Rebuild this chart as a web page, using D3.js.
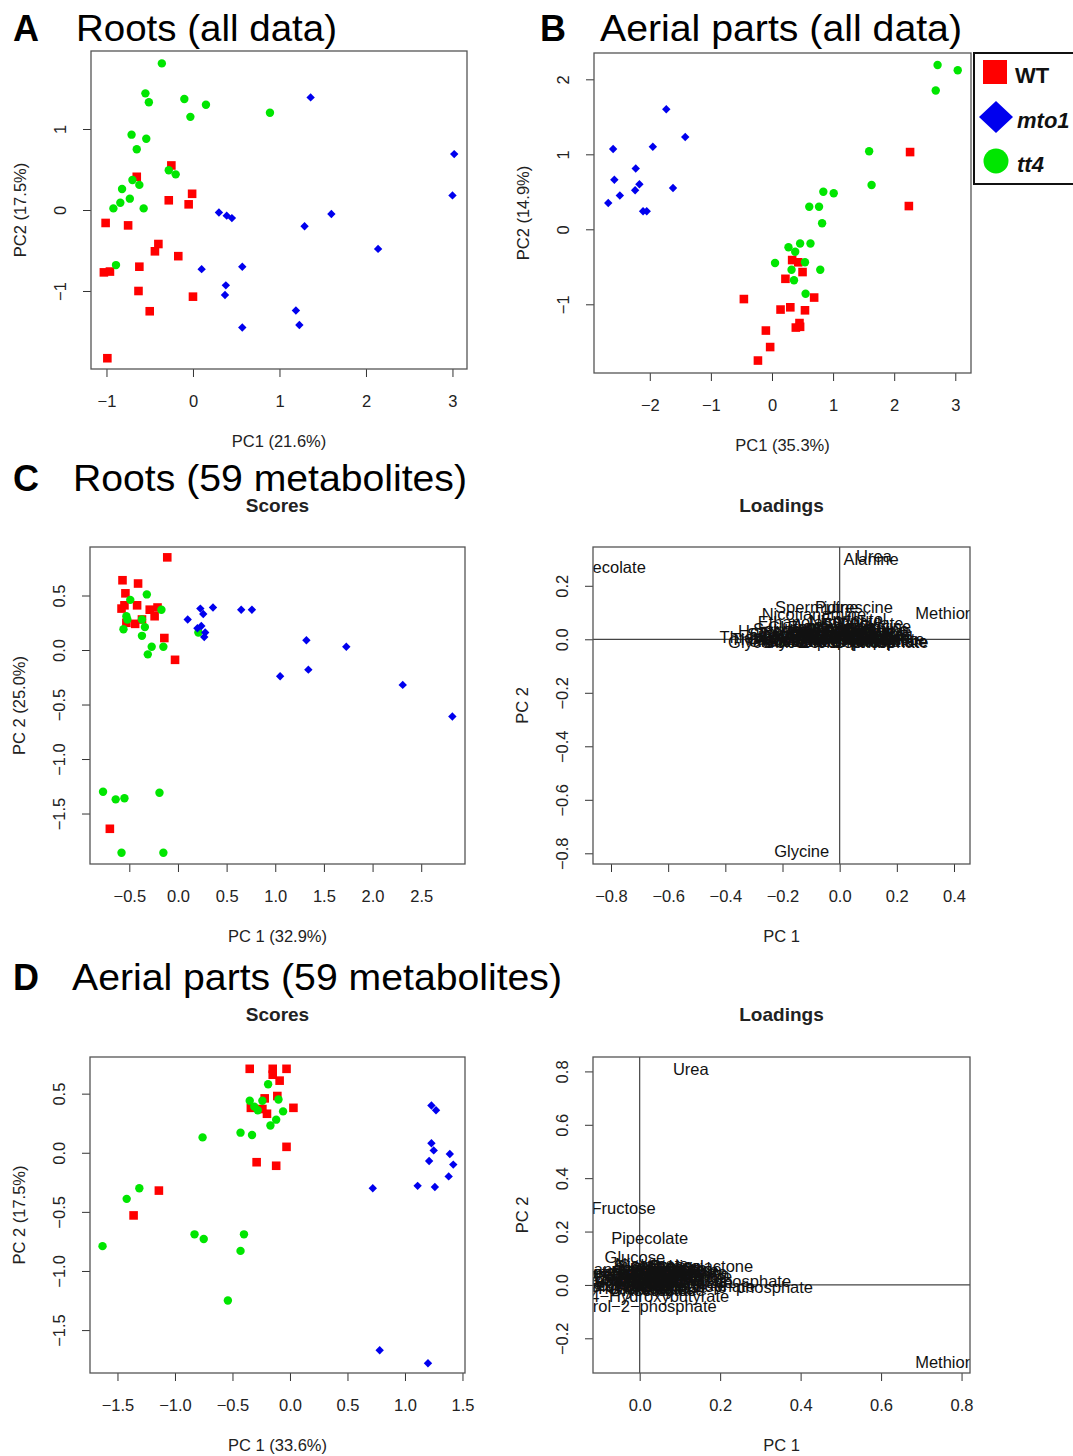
<!DOCTYPE html>
<html><head><meta charset="utf-8">
<script src="https://cdn.jsdelivr.net/npm/d3@7"></script>
<style>
body{margin:0;background:#fff}
svg{display:block}
text{font-family:Arial,"Liberation Sans",Helvetica,sans-serif}
</style>
</head><body>
<svg id="c" width="1073" height="1456"></svg>
<script>
// ---------------- DATA ----------------
const groups = ["WT", "mto1", "tt4"];
const groupColors = ["#ff0000", "#0000ee", "#00e600"];

// Panel A: Roots (all data) scores [PC1, PC2]
const rootsAllWT = [[-0.25,0.55],[-0.65,0.41],[-0.01,0.20],[-0.28,0.12],[-0.05,0.07],[-1.01,-0.16],[-0.75,-0.19],
  [-0.40,-0.42],[-0.44,-0.51],[-0.17,-0.57],[-0.62,-0.70],[-1.03,-0.77],[-0.96,-0.76],[-0.63,-1.00],[0.00,-1.07],
  [-0.50,-1.25],[-0.99,-1.83]];
const rootsAllMto1 = [[1.36,1.39],[3.02,0.69],[3.00,0.18],[0.30,-0.03],[0.39,-0.07],[0.45,-0.10],[1.60,-0.05],
  [1.29,-0.20],[2.14,-0.48],[0.10,-0.73],[0.57,-0.70],[0.38,-0.93],[0.37,-1.05],[1.19,-1.24],[1.23,-1.42],[0.57,-1.45]];
const rootsAllTt4 = [[-0.36,1.81],[-0.55,1.44],[-0.51,1.33],[-0.10,1.37],[0.15,1.30],[-0.03,1.15],[0.89,1.20],
  [-0.71,0.93],[-0.54,0.88],[-0.65,0.75],[-0.28,0.49],[-0.20,0.44],[-0.70,0.37],[-0.62,0.31],[-0.82,0.26],
  [-0.73,0.14],[-0.84,0.09],[-0.92,0.02],[-0.57,0.02],[-0.89,-0.68]];

// Panel B: Aerial parts (all data) scores
const aerialAllWT = [[2.26,1.03],[2.24,0.31],[0.33,-0.41],[0.43,-0.44],[0.50,-0.57],[0.22,-0.66],[0.69,-0.91],
  [-0.46,-0.93],[0.30,-1.04],[0.14,-1.07],[0.54,-1.08],[0.45,-1.25],[0.39,-1.31],[0.46,-1.30],[-0.10,-1.35],
  [-0.03,-1.57],[-0.23,-1.75]];
const aerialAllMto1 = [[-1.73,1.60],[-1.42,1.23],[-2.60,1.07],[-1.95,1.10],[-2.23,0.81],[-2.58,0.66],[-2.17,0.60],
  [-2.24,0.52],[-1.62,0.55],[-2.49,0.45],[-2.68,0.35],[-2.11,0.24],[-2.05,0.24]];
const aerialAllTt4 = [[2.71,2.19],[3.04,2.12],[2.68,1.85],[1.59,1.04],[1.63,0.59],[0.84,0.50],[1.01,0.48],
  [0.61,0.30],[0.77,0.30],[0.82,0.08],[0.27,-0.24],[0.46,-0.19],[0.63,-0.19],[0.38,-0.30],[0.05,-0.45],
  [0.54,-0.44],[0.32,-0.54],[0.79,-0.54],[0.36,-0.68],[0.55,-0.86]];

// Panel C: Roots (59 metabolites) scores
const roots59WT = [[-0.11,0.85],[-0.57,0.64],[-0.41,0.61],[-0.54,0.52],[-0.55,0.41],[-0.42,0.41],[-0.58,0.38],
  [-0.29,0.37],[-0.21,0.39],[-0.24,0.31],[-0.53,0.25],[-0.44,0.24],[-0.37,0.28],[-0.14,0.11],[-0.03,-0.09],[-0.70,-1.64]];
const roots59Mto1 = [[0.23,0.38],[0.36,0.39],[0.65,0.37],[0.76,0.37],[0.10,0.28],[0.26,0.33],[0.20,0.20],
  [0.24,0.22],[0.28,0.16],[0.27,0.12],[1.32,0.09],[1.73,0.03],[1.05,-0.24],[1.34,-0.18],[2.31,-0.32],[2.82,-0.61]];
const roots59Tt4 = [[-0.32,0.51],[-0.49,0.46],[-0.17,0.37],[-0.53,0.31],[-0.52,0.28],[-0.37,0.28],[-0.34,0.21],
  [-0.56,0.19],[-0.37,0.13],[-0.27,0.03],[-0.15,0.03],[-0.31,-0.04],[0.21,0.16],[-0.77,-1.30],[-0.64,-1.37],
  [-0.55,-1.36],[-0.19,-1.31],[-0.58,-1.86],[-0.15,-1.86]];

// Panel D: Aerial parts (59 metabolites) scores
const aerial59WT = [[-0.35,0.71],[-0.15,0.71],[-0.03,0.71],[-0.15,0.66],[-0.09,0.61],[-0.22,0.46],[-0.11,0.48],
  [-0.34,0.38],[-0.24,0.37],[-0.20,0.33],[0.03,0.38],[-0.03,0.05],[-0.29,-0.08],[-0.12,-0.11],[-1.14,-0.32],[-1.36,-0.53]];
const aerial59Mto1 = [[1.23,0.40],[1.27,0.36],[1.23,0.08],[1.25,0.02],[1.39,-0.01],[1.21,-0.07],[1.42,-0.10],
  [1.38,-0.20],[0.72,-0.30],[1.11,-0.28],[1.26,-0.29],[0.78,-1.67],[1.20,-1.78]];
const aerial59Tt4 = [[-0.19,0.58],[-0.35,0.44],[-0.24,0.44],[-0.10,0.45],[-0.31,0.39],[-0.28,0.36],[-0.06,0.35],
  [-0.12,0.28],[-0.17,0.23],[-0.43,0.17],[-0.33,0.15],[-0.76,0.13],[-1.31,-0.30],[-1.42,-0.39],[-0.83,-0.69],
  [-0.75,-0.73],[-0.40,-0.69],[-0.43,-0.83],[-1.63,-0.79],[-0.54,-1.25]];

// Metabolites and loadings
const metabolites = ["Alanine","Urea","Glycine","Methionine","Pipecolate","Spermidine","Nicotianamine","Putrescine","Threonine","Serine",
  "Proline","Valine","Leucine","Isoleucine","Glutamate","Glutamine","Aspartate","Asparagine","Phenylalanine","Tyrosine",
  "Tryptophan","Lysine","Arginine","Ornithine","GABA","beta\u2212Alanine","Homoserine","Pyroglutamate","Citrate","Malate",
  "Fumarate","Succinate","2\u2212Oxoglutarate","Glycerate","Glycolate","Shikimate","Ascorbate","Threonate","Gulonolactone","Sucrose",
  "Glucose","Fructose","Galactose","Raffinose","Trehalose","myo\u2212Inositol","Glycerol","Glycerol\u22122\u2212phosphate","Glycerol\u22123\u2212phosphate","Glucose\u22126\u2212phosphate",
  "Fructose\u22126\u2212phosphate","Ethanolamine","Phosphate","Sinapate","Nicotinate","Salicylate","4\u2212Hydroxybutyrate","Erythritol","Xylose"];
const rootsLoadPC1 = [0.11,0.12,-0.133,0.406,-0.813,-0.08,-0.09,0.05,-0.29,-0.22,
  0.16,0.10,0.05,0.00,-0.05,-0.12,0.12,-0.02,0.06,-0.18,
  0.10,-0.15,0.02,-0.06,0.15,-0.10,-0.20,0.03,-0.08,0.16,
  0.03,0.17,-0.12,0.10,-0.03,0.07,-0.17,-0.25,0.07,-0.01,
  0.04,-0.07,-0.13,0.13,-0.04,0.01,0.15,-0.10,0.02,-0.03,
  0.01,-0.11,0.17,-0.21,0.02,0.10,-0.04,0.05,-0.16];
const rootsLoadPC2 = [0.30,0.31,-0.79,0.10,0.27,0.12,0.095,0.12,0.01,0.04,
  0.05,0.03,0.02,0.015,0.03,0.045,0.01,0.05,0.04,0.02,
  0.005,0.035,0.04,0.01,0.02,0.02,0.03,0.00,-0.005,0.015,
  0.01,0.00,0.005,0.02,0.025,0.03,0.00,0.00,0.01,0.035,
  0.045,0.045,-0.005,0.03,0.015,0.03,0.01,-0.01,-0.01,-0.005,
  -0.005,0.065,-0.005,0.02,0.07,0.06,0.00,0.075,0.025];
const aerialLoadPC1 = [0.06,0.127,0.02,0.785,0.025,0.10,0.06,0.08,-0.06,-0.04,
  0.09,0.03,0.05,0.04,0.00,0.02,0.07,0.11,-0.03,0.01,
  0.12,-0.07,-0.05,0.08,0.13,-0.02,0.04,0.10,0.06,0.09,
  0.03,0.14,-0.06,0.00,0.02,0.07,0.05,-0.08,0.15,0.01,
  -0.012,-0.04,0.04,0.11,-0.02,0.06,0.00,-0.015,0.17,0.08,
  0.22,-0.05,0.12,-0.07,0.03,0.13,0.05,-0.03,0.10];
const aerialLoadPC2 = [0.03,0.81,0.01,-0.29,0.176,0.06,0.05,0.04,0.04,0.03,
  0.07,0.02,0.01,0.03,0.02,0.04,0.02,0.03,0.00,0.00,
  0.04,0.02,0.01,0.01,0.02,0.05,0.05,0.01,-0.01,0.05,
  -0.01,0.035,0.00,0.04,0.06,0.06,-0.02,0.02,0.07,0.07,
  0.105,0.29,0.075,0.055,-0.01,0.065,-0.02,-0.08,0.015,-0.005,
  -0.007,0.06,0.00,0.05,0.08,0.05,-0.04,0.03,-0.02];

// Tick values
const ticksA_x = [-1,0,1,2,3], ticksA_y = [-1,0,1];
const ticksB_x = [-2,-1,0,1,2,3], ticksB_y = [-1,0,1,2];
const ticksCs_x = [-0.5,0,0.5,1,1.5,2,2.5], ticksCs_y = [-1.5,-1,-0.5,0,0.5];
const ticksCl_x = [-0.8,-0.6,-0.4,-0.2,0,0.2,0.4], ticksCl_y = [-0.8,-0.6,-0.4,-0.2,0,0.2];
const ticksDs_x = [-1.5,-1,-0.5,0,0.5,1,1.5], ticksDs_y = [-1.5,-1,-0.5,0,0.5];
const ticksDl_x = [0,0.2,0.4,0.6,0.8], ticksDl_y = [-0.2,0,0.2,0.4,0.6,0.8];

// ---------------- DRAWING ----------------
const svg = d3.select("#c");
const defs = svg.append("defs");
const FS = 16.5;
let clipId = 0;

function panel(p) {
  const x = d3.scaleLinear().domain(p.xDom).range([p.L, p.R]);
  const y = d3.scaleLinear().domain(p.yDom).range([p.B, p.T]);
  const g = svg.append("g");
  const id = "clip" + (clipId++);
  defs.append("clipPath").attr("id", id).append("rect")
    .attr("x", p.L).attr("y", p.T).attr("width", p.R - p.L).attr("height", p.B - p.T);

  const xa = g.append("g").attr("transform", `translate(0,${p.B})`)
    .call(d3.axisBottom(x).tickValues(p.xTicks).tickFormat(p.fmt).tickSize(8));
  xa.select(".domain").remove();
  xa.selectAll("line").attr("stroke", "#333");
  xa.selectAll("text").attr("y", 32).attr("dy", null).attr("dominant-baseline", "central")
    .attr("fill", "#222").style("font-size", FS + "px").style("font-family", "Arial, 'Liberation Sans', sans-serif");

  const ya = g.append("g").attr("transform", `translate(${p.L},0)`)
    .call(d3.axisLeft(y).tickValues(p.yTicks).tickFormat(p.fmt).tickSize(8));
  ya.select(".domain").remove();
  ya.selectAll("line").attr("stroke", "#333");
  ya.selectAll("text").attr("x", null).attr("dy", null)
    .attr("transform", "translate(-31,0) rotate(-90)")
    .attr("text-anchor", "middle").attr("dominant-baseline", "central")
    .attr("fill", "#222").style("font-size", FS + "px").style("font-family", "Arial, 'Liberation Sans', sans-serif");

  g.append("text").attr("x", (p.L + p.R) / 2).attr("y", p.B + 72)
    .attr("text-anchor", "middle").attr("dominant-baseline", "central")
    .style("font-size", FS + "px").attr("fill", "#222").text(p.xTitle);
  g.append("text").attr("transform", `translate(${p.L - 71},${(p.T + p.B) / 2}) rotate(-90)`)
    .attr("text-anchor", "middle").attr("dominant-baseline", "central")
    .style("font-size", FS + "px").attr("fill", "#222").text(p.yTitle);

  const inner = g.append("g").attr("clip-path", `url(#${id})`);

  if (p.series) {
    p.series.forEach(s => {
      const col = groupColors[groups.indexOf(s.group)];
      const sel = inner.append("g").selectAll("path").data(s.pts).join("path")
        .attr("fill", col)
        .attr("transform", d => `translate(${x(d[0])},${y(d[1])})`);
      if (s.group === "WT") sel.attr("d", "M-4.3,-4.3H4.3V4.3H-4.3Z");
      else if (s.group === "mto1") sel.attr("d", "M0,-4.2L4.2,0L0,4.2L-4.2,0Z");
      else sel.attr("d", d3.symbol(d3.symbolCircle, Math.PI * 4.2 * 4.2)());
    });
  }
  if (p.labels) {
    inner.append("line").attr("x1", x(0)).attr("x2", x(0)).attr("y1", p.T).attr("y2", p.B)
      .attr("stroke", "#444").attr("stroke-width", 1.2);
    inner.append("line").attr("x1", p.L).attr("x2", p.R).attr("y1", y(0)).attr("y2", y(0))
      .attr("stroke", "#444").attr("stroke-width", 1.2);
    inner.append("g").selectAll("text").data(p.labels).join("text")
      .attr("x", d => x(d.pc1)).attr("y", d => y(d.pc2))
      .attr("text-anchor", "middle").attr("dominant-baseline", "central")
      .style("font-size", FS + "px").attr("fill", "#111").text(d => d.name);
  }
  g.append("rect").attr("x", p.L).attr("y", p.T).attr("width", p.R - p.L).attr("height", p.B - p.T)
    .attr("fill", "none").attr("stroke", "#555").attr("stroke-width", 1.3);
}

const fInt = d3.format("d"), f1 = d3.format(".1f");
const ser = (wt, m, t) => [{group: "WT", pts: wt}, {group: "tt4", pts: t}, {group: "mto1", pts: m}];
const lab = (a, b) => metabolites.map((n, i) => ({name: n, pc1: a[i], pc2: b[i]}));

panel({L: 91, R: 467, T: 51, B: 369, xDom: [-1.179, 3.168], yDom: [-1.963, 1.963],
  xTicks: ticksA_x, yTicks: ticksA_y, fmt: fInt, xTitle: "PC1 (21.6%)", yTitle: "PC2 (17.5%)",
  series: ser(rootsAllWT, rootsAllMto1, rootsAllTt4)});
panel({L: 594, R: 971, T: 53, B: 373, xDom: [-2.913, 3.257], yDom: [-1.916, 2.351],
  xTicks: ticksB_x, yTicks: ticksB_y, fmt: fInt, xTitle: "PC1 (35.3%)", yTitle: "PC2 (14.9%)",
  series: ser(aerialAllWT, aerialAllMto1, aerialAllTt4)});
panel({L: 90, R: 465, T: 547, B: 864, xDom: [-0.904, 2.950], yDom: [-1.963, 0.945],
  xTicks: ticksCs_x, yTicks: ticksCs_y, fmt: f1, xTitle: "PC 1 (32.9%)", yTitle: "PC 2 (25.0%)",
  series: ser(roots59WT, roots59Mto1, roots59Tt4)});
panel({L: 593, R: 970, T: 547, B: 864, xDom: [-0.863, 0.456], yDom: [-0.840, 0.345],
  xTicks: ticksCl_x, yTicks: ticksCl_y, fmt: f1, xTitle: "PC 1", yTitle: "PC 2",
  labels: lab(rootsLoadPC1, rootsLoadPC2)});
panel({L: 90, R: 465, T: 1057, B: 1373, xDom: [-1.739, 1.522], yDom: [-1.863, 0.810],
  xTicks: ticksDs_x, yTicks: ticksDs_y, fmt: f1, xTitle: "PC 1 (33.6%)", yTitle: "PC 2 (17.5%)",
  series: ser(aerial59WT, aerial59Mto1, aerial59Tt4)});
panel({L: 593, R: 970, T: 1057, B: 1373, xDom: [-0.116, 0.821], yDom: [-0.330, 0.854],
  xTicks: ticksDl_x, yTicks: ticksDl_y, fmt: f1, xTitle: "PC 1", yTitle: "PC 2",
  labels: lab(aerialLoadPC1, aerialLoadPC2)});

// Panel headings
const heads = [
  {letter: "A", lx: 13, tx: 76, y: 41, w: 261, text: "Roots (all data)"},
  {letter: "B", lx: 540, tx: 600, y: 41, w: 362, text: "Aerial parts (all data)"},
  {letter: "C", lx: 13, tx: 73, y: 491, w: 394, text: "Roots (59 metabolites)"},
  {letter: "D", lx: 13, tx: 72, y: 990, w: 490, text: "Aerial parts (59 metabolites)"}
];
heads.forEach(h => {
  svg.append("text").attr("x", h.lx).attr("y", h.y).style("font-size", "36px").style("font-weight", "bold").text(h.letter);
  svg.append("text").attr("x", h.tx).attr("y", h.y).style("font-size", "37px")
    .attr("textLength", h.w).attr("lengthAdjust", "spacingAndGlyphs").text(h.text);
});
[{x: 277.5, y: 512, t: "Scores"}, {x: 781.5, y: 512, t: "Loadings"},
 {x: 277.5, y: 1021, t: "Scores"}, {x: 781.5, y: 1021, t: "Loadings"}].forEach(s => {
  svg.append("text").attr("x", s.x).attr("y", s.y).attr("text-anchor", "middle")
    .style("font-size", "19px").style("font-weight", "bold").attr("fill", "#222").text(s.t);
});

// Legend
const lg = svg.append("g");
lg.append("rect").attr("x", 974).attr("y", 53).attr("width", 110).attr("height", 131)
  .attr("fill", "#fff").attr("stroke", "#111").attr("stroke-width", 2);
const legY = [72, 117, 161];
groups.forEach((gname, i) => {
  const cy = legY[i], col = groupColors[i];
  if (gname === "WT") lg.append("rect").attr("x", 983).attr("y", cy - 12).attr("width", 24).attr("height", 24).attr("fill", col);
  else if (gname === "mto1") lg.append("path").attr("d", `M996,${cy - 16}L1013,${cy}L996,${cy + 16}L979,${cy}Z`).attr("fill", col);
  else lg.append("circle").attr("cx", 996).attr("cy", cy).attr("r", 12.5).attr("fill", col);
  lg.append("text").attr("x", gname === "WT" ? 1015 : 1017).attr("y", cy + 11)
    .style("font-size", "22px").style("font-weight", "bold")
    .style("font-style", gname === "WT" ? "normal" : "italic").attr("fill", "#111").text(gname);
});
</script>
</body></html>
